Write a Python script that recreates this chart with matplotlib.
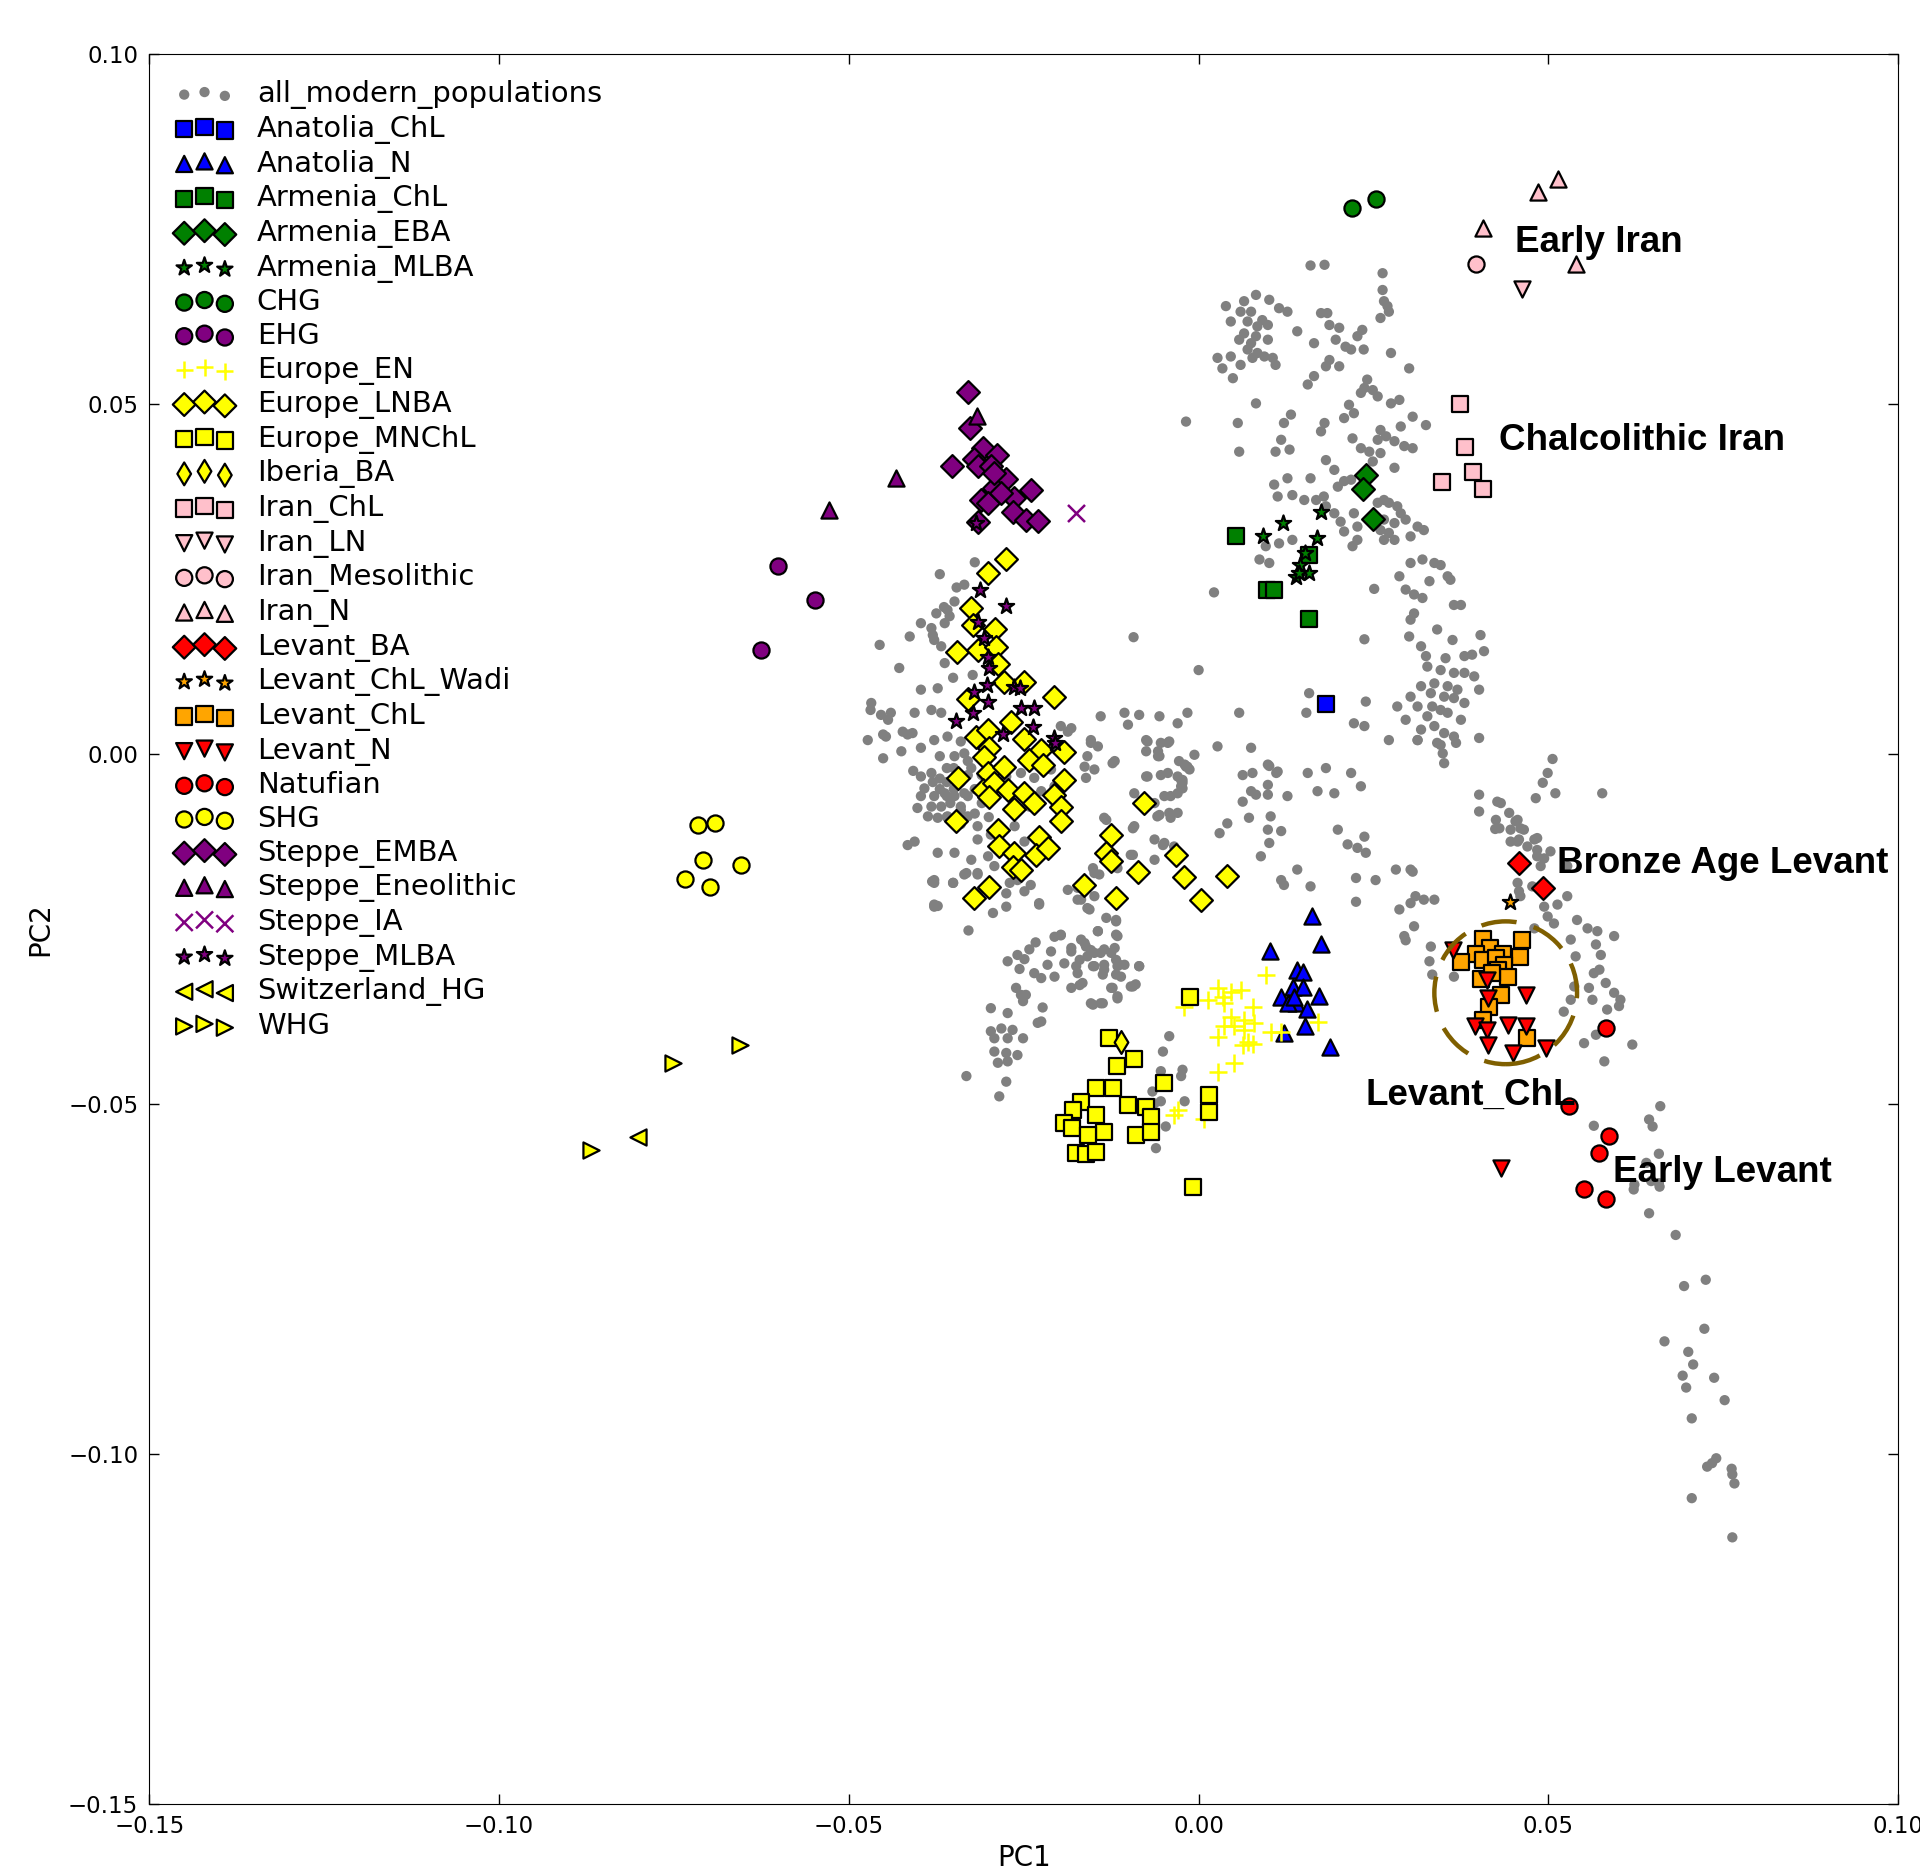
import numpy as np
import matplotlib.pyplot as plt
from matplotlib.patches import Circle

plt.rcParams['font.family'] = ['DejaVu Sans']
plt.rcParams['axes.unicode_minus'] = True

# ---- modern reference samples (grey background cloud), PC1/PC2 ----
modern_near_east = [
    (0.0160, 0.0698), (0.0180, 0.0699), (0.0263, 0.0687), (0.0263, 0.0663), (0.0265, 0.0647), (0.0270, 0.0640),
    (0.0272, 0.0632), (0.0260, 0.0623), (0.0082, 0.0656), (0.0065, 0.0647), (0.0101, 0.0649), (0.0039, 0.0640),
    (0.0060, 0.0632), (0.0075, 0.0632), (0.0091, 0.0620), (0.0115, 0.0637), (0.0127, 0.0632), (0.0046, 0.0618),
    (0.0070, 0.0618), (0.0084, 0.0611), (0.0099, 0.0613), (0.0065, 0.0601), (0.0082, 0.0597), (0.0058, 0.0592),
    (0.0075, 0.0587), (0.0099, 0.0592), (0.0070, 0.0578), (0.0084, 0.0573), (0.0027, 0.0566), (0.0046, 0.0568),
    (0.0060, 0.0556), (0.0034, 0.0551), (0.0077, 0.0566), (0.0094, 0.0568), (0.0106, 0.0566), (0.0110, 0.0556),
    (0.0049, 0.0537), (0.0141, 0.0604), (0.0175, 0.0630), (0.0184, 0.0630), (0.0187, 0.0613), (0.0201, 0.0609),
    (0.0234, 0.0606), (0.0227, 0.0597), (0.0165, 0.0587), (0.0196, 0.0592), (0.0210, 0.0582), (0.0218, 0.0578),
    (0.0236, 0.0578), (0.0275, 0.0573), (0.0301, 0.0551), (0.0187, 0.0563), (0.0201, 0.0554), (0.0182, 0.0554),
    (0.0165, 0.0540), (0.0156, 0.0528), (0.0241, 0.0535), (0.0237, 0.0523), (0.0249, 0.0520), (0.0256, 0.0511),
    (0.0275, 0.0501), (0.0287, 0.0506), (0.0232, 0.0516), (0.0215, 0.0499), (0.0222, 0.0487), (0.0208, 0.0480),
    (0.0082, 0.0501), (0.0056, 0.0473), (-0.0018, 0.0475), (0.0132, 0.0485), (0.0122, 0.0473), (0.0180, 0.0473),
    (0.0175, 0.0461), (0.0118, 0.0449), (0.0220, 0.0451), (0.0260, 0.0463), (0.0268, 0.0454), (0.0256, 0.0449),
    (0.0280, 0.0447), (0.0289, 0.0468), (0.0306, 0.0482), (0.0325, 0.0470), (0.0294, 0.0440), (0.0306, 0.0437),
    (0.0058, 0.0432), (0.0110, 0.0432), (0.0130, 0.0435), (0.0182, 0.0420), (0.0194, 0.0406), (0.0232, 0.0437),
    (0.0244, 0.0432), (0.0260, 0.0430), (0.0249, 0.0418), (0.0280, 0.0409), (0.0208, 0.0390), (0.0199, 0.0382),
    (0.0218, 0.0392), (0.0127, 0.0394), (0.0160, 0.0394), (0.0108, 0.0385), (0.0113, 0.0368), (0.0134, 0.0370),
    (0.0151, 0.0363), (0.0168, 0.0363), (0.0179, 0.0368), (0.0182, 0.0354), (0.0194, 0.0344), (0.0203, 0.0332),
    (0.0208, 0.0318), (0.0222, 0.0344), (0.0227, 0.0325), (0.0256, 0.0359), (0.0265, 0.0363), (0.0272, 0.0359),
    (0.0284, 0.0354), (0.0289, 0.0344), (0.0296, 0.0335), (0.0265, 0.0335), (0.0280, 0.0330), (0.0260, 0.0320),
    (0.0272, 0.0316), (0.0227, 0.0306), (0.0220, 0.0297), (0.0265, 0.0306), (0.0280, 0.0306), (0.0303, 0.0311),
    (0.0313, 0.0325), (0.0322, 0.0320), (0.0096, 0.0297), (0.0115, 0.0301), (0.0134, 0.0306), (0.0087, 0.0278),
    (0.0101, 0.0273), (0.0303, 0.0273), (0.0320, 0.0278), (0.0337, 0.0273), (0.0346, 0.0270), (0.0356, 0.0254),
    (0.0360, 0.0249), (0.0287, 0.0254), (0.0330, 0.0247), (0.0251, 0.0236), (0.0296, 0.0235), (0.0308, 0.0228),
    (0.0320, 0.0223), (0.0365, 0.0213), (0.0375, 0.0213), (0.0308, 0.0201), (0.0303, 0.0192), (0.0341, 0.0178),
    (0.0363, 0.0163), (0.0301, 0.0168), (0.0318, 0.0154), (0.0237, 0.0164), (0.0325, 0.0140), (0.0353, 0.0137),
    (0.0380, 0.0140), (0.0391, 0.0142), (0.0403, 0.0170), (0.0408, 0.0147), (0.0327, 0.0125), (0.0346, 0.0120),
    (0.0365, 0.0116), (0.0380, 0.0116), (0.0337, 0.0101), (0.0318, 0.0097), (0.0356, 0.0097), (0.0370, 0.0092),
    (0.0394, 0.0111), (0.0401, 0.0092), (0.0303, 0.0082), (0.0332, 0.0087), (0.0351, 0.0082), (0.0365, 0.0080),
    (0.0380, 0.0073), (0.0284, 0.0068), (0.0313, 0.0068), (0.0334, 0.0068), (0.0346, 0.0063), (0.0327, 0.0054),
    (0.0356, 0.0059), (0.0375, 0.0049), (0.0296, 0.0049), (0.0337, 0.0040), (0.0318, 0.0035), (0.0351, 0.0030),
    (0.0365, 0.0025), (0.0313, 0.0020), (0.0341, 0.0016), (0.0401, 0.0023), (0.0022, 0.0231), (0.0000, 0.0120),
    (0.0158, 0.0087), (0.0154, 0.0059), (0.0239, 0.0075), (0.0222, 0.0044), (0.0237, 0.0040), (-0.0016, 0.0059),
    (0.0058, 0.0059), (0.0027, 0.0011), (0.0075, 0.0009), (-0.0006, -0.0001), (-0.0093, 0.0167),
]

modern_europe = [
    (-0.0320, 0.0274), (-0.0370, 0.0257), (-0.0335, 0.0242), (-0.0349, 0.0218), (-0.0359, 0.0206), (-0.0375, 0.0201),
    (-0.0397, 0.0187), (-0.0413, 0.0168), (-0.0382, 0.0180), (-0.0363, 0.0187), (-0.0356, 0.0197), (-0.0456, 0.0156),
    (-0.0378, 0.0163), (-0.0368, 0.0154), (-0.0428, 0.0123), (-0.0363, 0.0130), (-0.0351, 0.0109), (-0.0323, 0.0113),
    (-0.0397, 0.0092), (-0.0373, 0.0094), (-0.0468, 0.0073), (-0.0454, 0.0056), (-0.0444, 0.0049), (-0.0440, 0.0059),
    (-0.0406, 0.0059), (-0.0382, 0.0063), (-0.0368, 0.0059), (-0.0473, 0.0020), (-0.0447, 0.0025), (-0.0423, 0.0032),
    (-0.0409, 0.0030), (-0.0425, 0.0004), (-0.0451, -0.0006), (-0.0397, 0.0009), (-0.0378, 0.0020), (-0.0359, 0.0025),
    (-0.0340, 0.0018), (-0.0370, -0.0003), (-0.0349, -0.0003), (-0.0335, 0.0001), (-0.0382, -0.0027), (-0.0397, -0.0032),
    (-0.0392, -0.0049), (-0.0378, -0.0060), (-0.0363, -0.0056), (-0.0349, -0.0060), (-0.0335, -0.0056), (-0.0368, -0.0075),
    (-0.0382, -0.0075), (-0.0387, -0.0089), (-0.0373, -0.0091), (-0.0359, -0.0089), (-0.0340, -0.0075), (-0.0330, -0.0089),
    (-0.0397, -0.0060), (-0.0316, -0.0103), (-0.0406, -0.0125), (-0.0373, -0.0141), (-0.0349, -0.0141), (-0.0378, -0.0180),
    (-0.0351, -0.0184), (-0.0332, -0.0170), (-0.0316, -0.0170), (-0.0378, -0.0218), (-0.0275, -0.0218), (-0.0228, -0.0213),
    (-0.0270, -0.0184), (-0.0240, -0.0187), (-0.0360, -0.0040), (-0.0350, -0.0050), (-0.0340, -0.0040), (-0.0330, -0.0060),
    (-0.0320, -0.0050), (-0.0355, -0.0070), (-0.0340, -0.0080), (-0.0360, -0.0060), (-0.0370, -0.0050), (-0.0330, -0.0030),
    (-0.0310, -0.0070), (-0.0350, -0.0020), (-0.0320, -0.0085), (-0.0300, -0.0090), (-0.0340, -0.0100), (-0.0360, -0.0090),
    (-0.0380, -0.0040), (-0.0360, -0.0020), (-0.0330, -0.0010), (-0.0310, -0.0030), (-0.0300, -0.0050), (-0.0345, -0.0030),
    (-0.0325, -0.0020), (-0.0370, -0.0035), (-0.0350, -0.0095), (-0.0469, 0.0063), (-0.0451, 0.0028), (-0.0416, 0.0028),
    (-0.0408, -0.0024), (-0.0402, -0.0077), (-0.0416, -0.0130), (-0.0381, -0.0182), (-0.0373, -0.0217), (-0.0329, -0.0252),
    (-0.0294, -0.0227), (-0.0380, 0.0170), (-0.0364, 0.0210), (-0.0346, 0.0238),
    (-0.0235, -0.0034), (-0.0211, -0.0022), (-0.0206, -0.0046), (-0.0197, 0.0040), (-0.0187, 0.0032), (-0.0209, 0.0009),
    (-0.0235, -0.0010), (-0.0254, -0.0027), (-0.0275, -0.0032), (-0.0225, -0.0053), (-0.0242, -0.0075), (-0.0263, -0.0103),
    (-0.0316, -0.0122), (-0.0297, -0.0115), (-0.0282, -0.0127), (-0.0249, -0.0125), (-0.0325, -0.0151), (-0.0301, -0.0146),
    (-0.0292, -0.0160), (-0.0259, -0.0180), (-0.0249, -0.0196), (-0.0316, -0.0199), (-0.0275, -0.0199),
]

modern_central = [
    (-0.0140, 0.0054), (-0.0106, 0.0059), (-0.0085, 0.0056), (-0.0056, 0.0054), (-0.0030, 0.0044), (-0.0101, 0.0042),
    (-0.0075, 0.0020), (-0.0054, 0.0016), (-0.0042, 0.0018), (-0.0154, 0.0020), (-0.0144, 0.0011), (-0.0159, -0.0003),
    (-0.0163, -0.0018), (-0.0149, -0.0022), (-0.0123, -0.0013), (-0.0056, -0.0003), (-0.0028, -0.0010), (-0.0018, -0.0018),
    (-0.0054, -0.0030), (-0.0075, -0.0032), (-0.0044, -0.0027), (-0.0025, -0.0037), (-0.0161, -0.0034), (-0.0092, -0.0056),
    (-0.0049, -0.0060), (-0.0040, -0.0060), (-0.0025, -0.0046), (-0.0063, -0.0070), (-0.0042, -0.0084), (-0.0030, -0.0084),
    (-0.0059, -0.0089), (-0.0135, -0.0091), (-0.0092, -0.0103), (-0.0063, -0.0122), (-0.0049, -0.0127), (-0.0035, -0.0132),
    (-0.0063, -0.0151), (-0.0094, -0.0144), (-0.0151, -0.0163), (-0.0142, -0.0172), (-0.0173, -0.0191), (-0.0187, -0.0194),
    (-0.0149, -0.0203), (-0.0132, -0.0234), (-0.0144, -0.0253), (-0.0197, -0.0258), (0.0030, -0.0113),
    (-0.0154, 0.0016), (-0.0120, -0.0010), (-0.0073, -0.0032), (-0.0030, -0.0032), (-0.0016, -0.0018), (-0.0023, -0.0041),
    (-0.0030, -0.0056), (-0.0056, -0.0087), (-0.0040, -0.0091), (-0.0094, -0.0106), (-0.0132, -0.0094), (-0.0051, -0.0130),
    (-0.0097, -0.0144), (-0.0116, -0.0163), (-0.0149, -0.0170), (-0.0168, -0.0208), (-0.0159, -0.0220), (-0.0118, -0.0239),
    (-0.0116, -0.0260), (-0.0182, -0.0277), (-0.0163, -0.0270), (-0.0154, -0.0280), (-0.0140, -0.0284), (-0.0125, -0.0284),
    (-0.0170, -0.0294), (-0.0149, -0.0303), (-0.0135, -0.0308), (-0.0116, -0.0303), (-0.0111, -0.0318), (-0.0085, -0.0303),
    (-0.0166, -0.0327), (-0.0182, -0.0334), (-0.0125, -0.0334), (-0.0094, -0.0332), (-0.0151, -0.0358), (-0.0137, -0.0356),
    (-0.0116, -0.0346), (-0.0182, 0.0037), (-0.0073, 0.0018), (-0.0044, 0.0016), (-0.0075, 0.0004), (-0.0058, 0.0004),
    (-0.0058, -0.0003), (-0.0020, -0.0015), (-0.0013, -0.0022), (-0.0023, -0.0037), (-0.0023, -0.0049),
    (0.0063, -0.0030), (0.0077, -0.0027), (0.0099, -0.0015), (0.0113, -0.0025), (0.0063, -0.0068), (0.0075, -0.0053),
    (0.0099, -0.0058), (0.0127, -0.0060), (0.0156, -0.0027), (0.0182, -0.0020), (0.0218, -0.0027), (0.0232, -0.0046),
    (0.0170, -0.0053), (0.0194, -0.0056), (0.0041, -0.0099), (0.0072, -0.0091), (0.0099, -0.0108), (0.0118, -0.0110),
    (0.0103, -0.0089), (0.0089, -0.0146), (0.0101, -0.0127), (0.0141, -0.0165), (0.0118, -0.0180), (0.0122, -0.0187),
    (0.0160, -0.0189), (0.0199, -0.0108), (0.0213, -0.0129), (0.0227, -0.0134), (0.0239, -0.0141), (0.0237, -0.0118),
    (0.0225, -0.0177), (0.0253, -0.0180), (0.0225, -0.0211), (0.0282, -0.0165), (0.0303, -0.0165), (0.0287, -0.0222),
    (0.0303, -0.0213), (0.0310, -0.0203), (0.0322, -0.0208), (0.0337, -0.0208), (0.0294, -0.0260), (0.0308, -0.0246),
    (0.0332, -0.0275), (0.0330, -0.0296), (0.0334, -0.0315), (0.0272, 0.0020), (0.0346, 0.0013), (0.0313, 0.0020),
    (0.0351, -0.0013), (0.0101, -0.0017), (0.0111, -0.0027), (0.0099, -0.0044), (0.0082, -0.0058),
]

modern_caucasus_strand = [
    (-0.0335, -0.0172), (-0.0316, -0.0172), (-0.0351, -0.0184), (-0.0378, -0.0184), (-0.0378, -0.0215), (-0.0228, -0.0215),
    (-0.0173, -0.0208), (-0.0156, -0.0222), (-0.0118, -0.0237), (-0.0144, -0.0253), (-0.0197, -0.0259), (-0.0118, -0.0258),
    (-0.0168, -0.0265), (-0.0161, -0.0275), (-0.0149, -0.0284), (-0.0135, -0.0279), (-0.0120, -0.0277), (-0.0242, -0.0279),
    (-0.0211, -0.0282), (-0.0182, -0.0282), (-0.0159, -0.0289), (-0.0192, -0.0299), (-0.0175, -0.0303), (-0.0151, -0.0303),
    (-0.0135, -0.0301), (-0.0118, -0.0294), (-0.0113, -0.0301), (-0.0106, -0.0301), (-0.0085, -0.0303), (-0.0273, -0.0296),
    (-0.0249, -0.0293), (-0.0256, -0.0307), (-0.0216, -0.0301), (-0.0235, -0.0313), (-0.0225, -0.0320), (-0.0206, -0.0318),
    (-0.0173, -0.0313), (-0.0170, -0.0330), (-0.0137, -0.0315), (-0.0118, -0.0315), (-0.0123, -0.0334), (-0.0116, -0.0349),
    (-0.0097, -0.0332), (-0.0090, -0.0329), (-0.0261, -0.0334), (-0.0254, -0.0344), (-0.0247, -0.0344), (-0.0251, -0.0353),
    (-0.0297, -0.0363), (-0.0273, -0.0370), (-0.0223, -0.0362), (-0.0154, -0.0356), (-0.0140, -0.0356), (-0.0230, -0.0384),
    (-0.0225, -0.0382), (-0.0297, -0.0396), (-0.0282, -0.0392), (-0.0266, -0.0394), (-0.0292, -0.0406), (-0.0273, -0.0406),
    (-0.0251, -0.0406), (-0.0292, -0.0425), (-0.0275, -0.0427), (-0.0259, -0.0430), (-0.0287, -0.0441), (-0.0273, -0.0439),
    (-0.0332, -0.0460), (-0.0275, -0.0468), (-0.0285, -0.0489), (-0.0259, -0.0287), (-0.0233, -0.0269), (-0.0206, -0.0261),
    (-0.0042, -0.0403), (-0.0051, -0.0425), (-0.0023, -0.0451), (-0.0054, -0.0453), (-0.0066, -0.0482), (-0.0020, -0.0496),
    (-0.0054, -0.0496), (-0.0025, -0.0460), (-0.0063, -0.0499), (-0.0047, -0.0532), (-0.0061, -0.0563),
]

modern_levant = [
    (0.0349, 0.0001), (0.0368, 0.0016), (0.0506, -0.0007), (0.0510, -0.0056), (0.0482, -0.0063), (0.0577, -0.0056),
    (0.0432, -0.0070), (0.0453, -0.0096), (0.0424, -0.0107), (0.0446, -0.0108), (0.0460, -0.0106), (0.0458, -0.0122),
    (0.0484, -0.0120), (0.0470, -0.0132), (0.0484, -0.0137), (0.0503, -0.0139), (0.0494, -0.0149), (0.0489, -0.0160),
    (0.0527, -0.0160), (0.0456, -0.0184), (0.0477, -0.0189), (0.0458, -0.0196), (0.0460, -0.0203), (0.0527, -0.0203),
    (0.0513, -0.0215), (0.0494, -0.0218), (0.0499, -0.0232), (0.0508, -0.0242), (0.0541, -0.0237), (0.0556, -0.0249),
    (0.0570, -0.0253), (0.0594, -0.0260), (0.0568, -0.0272), (0.0575, -0.0287), (0.0573, -0.0308), (0.0565, -0.0313),
    (0.0582, -0.0327), (0.0594, -0.0341), (0.0603, -0.0351), (0.0601, -0.0360), (0.0558, -0.0334), (0.0563, -0.0351),
    (0.0537, -0.0332), (0.0532, -0.0351), (0.0522, -0.0368), (0.0584, -0.0365), (0.0568, -0.0401), (0.0551, -0.0413),
    (0.0620, -0.0415), (0.0580, -0.0439), (0.0532, -0.0265), (0.0539, -0.0289), (0.0480, -0.0249), (0.0365, -0.0318),
    (0.0306, -0.0168), (0.0296, -0.0266), (0.0401, -0.0058), (0.0401, -0.0082), (0.0427, -0.0068), (0.0425, -0.0094),
    (0.0430, -0.0106), (0.0444, -0.0084), (0.0456, -0.0094), (0.0465, -0.0108), (0.0456, -0.0125), (0.0480, -0.0122),
    (0.0446, -0.0125), (0.0484, -0.0146), (0.0492, -0.0041), (0.0499, -0.0027),
    (0.0660, -0.0503), (0.0644, -0.0522), (0.0649, -0.0532), (0.0565, -0.0531), (0.0622, -0.0622), (0.0658, -0.0571),
    (0.0640, -0.0584), (0.0659, -0.0618), (0.0647, -0.0610), (0.0658, -0.0613), (0.0623, -0.0615), (0.0644, -0.0656),
    (0.0682, -0.0687), (0.0725, -0.0751), (0.0694, -0.0760), (0.0723, -0.0821), (0.0666, -0.0839), (0.0700, -0.0854),
    (0.0707, -0.0872), (0.0692, -0.0888), (0.0697, -0.0905), (0.0737, -0.0891), (0.0752, -0.0923), (0.0705, -0.0949),
    (0.0727, -0.1018), (0.0740, -0.1006), (0.0734, -0.1013), (0.0762, -0.1021), (0.0763, -0.1029), (0.0766, -0.1042),
    (0.0705, -0.1063), (0.0763, -0.1119),
]

# ---- ancient samples ----
anatolia_chl = [(0.0182, 0.0072)]
anatolia_n = [(0.0162, -0.0232), (0.0175, -0.0272), (0.0102, -0.0282), (0.0141, -0.0308), (0.0149, -0.0311),
              (0.0135, -0.0333), (0.0149, -0.0333), (0.0118, -0.0347), (0.0139, -0.0355), (0.0172, -0.0345),
              (0.0155, -0.0364), (0.0152, -0.0389), (0.0122, -0.0399), (0.0188, -0.0419), (0.0128, -0.0355),
              (0.0136, -0.0347)]
armenia_chl = [(0.0054, 0.0311), (0.0158, 0.0285), (0.0098, 0.0235), (0.0108, 0.0235), (0.0158, 0.0193)]
armenia_eba = [(0.0239, 0.0399), (0.0235, 0.0379), (0.0249, 0.0336)]
armenia_mlba = [(0.0175, 0.0346), (0.0121, 0.0330), (0.0092, 0.0311), (0.0169, 0.0309), (0.0152, 0.0287),
                (0.0145, 0.0270), (0.0139, 0.0253), (0.0158, 0.0259), (0.0143, 0.0259)]
chg = [(0.0219, 0.0780), (0.0254, 0.0793)]
ehg = [(-0.0602, 0.0268), (-0.0548, 0.0220), (-0.0626, 0.0149)]
europe_en = [(0.0096, -0.0315), (0.0028, -0.0334), (0.0046, -0.0340), (0.0061, -0.0337), (0.0035, -0.0347),
             (0.0013, -0.0351), (0.0037, -0.0355), (-0.0021, -0.0361), (0.0078, -0.0361), (0.0046, -0.0375),
             (0.0065, -0.0380), (0.0079, -0.0384), (0.0051, -0.0389), (0.0037, -0.0389), (0.0065, -0.0394),
             (0.0104, -0.0397), (0.0118, -0.0397), (0.0028, -0.0404), (0.0171, -0.0383), (0.0071, -0.0411),
             (0.0078, -0.0414), (0.0063, -0.0415), (0.0051, -0.0441), (0.0028, -0.0454), (-0.0030, -0.0508),
             (-0.0035, -0.0515), (0.0008, -0.0522)]
europe_lnba = [(-0.0275, 0.0278), (-0.0301, 0.0258), (-0.0325, 0.0209), (-0.0322, 0.0185), (-0.0291, 0.0179),
               (-0.0345, 0.0146), (-0.0315, 0.0149), (-0.0289, 0.0153), (-0.0287, 0.0128), (-0.0278, 0.0103),
               (-0.0249, 0.0103), (-0.0207, 0.0082), (-0.0330, 0.0078), (-0.0268, 0.0046), (-0.0318, 0.0025),
               (-0.0301, 0.0035), (-0.0299, 0.0009), (-0.0249, 0.0021), (-0.0225, 0.0006), (-0.0192, 0.0003),
               (-0.0242, -0.0008), (-0.0222, -0.0015), (-0.0307, -0.0004), (-0.0301, -0.0027), (-0.0278, -0.0018),
               (-0.0344, -0.0034), (-0.0192, -0.0037), (-0.0308, -0.0051), (-0.0292, -0.0041), (-0.0272, -0.0051),
               (-0.0249, -0.0055), (-0.0235, -0.0070), (-0.0207, -0.0058), (-0.0197, -0.0075), (-0.0299, -0.0062),
               (-0.0347, -0.0096), (-0.0264, -0.0079), (-0.0197, -0.0096), (-0.0287, -0.0108), (-0.0228, -0.0119),
               (-0.0285, -0.0132), (-0.0264, -0.0141), (-0.0232, -0.0144), (-0.0215, -0.0134), (-0.0265, -0.0162),
               (-0.0254, -0.0165), (-0.0125, -0.0115), (-0.0132, -0.0141), (-0.0125, -0.0153), (-0.0164, -0.0187),
               (-0.0118, -0.0206), (-0.0299, -0.0190), (-0.0321, -0.0206), (-0.0087, -0.0169), (-0.0078, -0.0070),
               (-0.0032, -0.0144), (-0.0021, -0.0175), (0.0003, -0.0208), (0.0040, -0.0174)]
europe_mnchl = [(-0.0012, -0.0347), (-0.0128, -0.0405), (-0.0092, -0.0435), (-0.0117, -0.0446), (-0.0049, -0.0470),
                (-0.0146, -0.0477), (-0.0122, -0.0477), (0.0015, -0.0487), (-0.0168, -0.0497), (-0.0101, -0.0501),
                (-0.0075, -0.0504), (-0.0180, -0.0508), (-0.0146, -0.0515), (-0.0068, -0.0519), (-0.0192, -0.0527),
                (-0.0181, -0.0534), (-0.0135, -0.0540), (-0.0158, -0.0544), (-0.0089, -0.0544), (-0.0068, -0.0540),
                (-0.0175, -0.0570), (-0.0161, -0.0572), (-0.0146, -0.0568), (0.0015, -0.0511), (-0.0008, -0.0618)]
iberia_ba = [(-0.0111, -0.0412)]
iran_chl = [(0.0373, 0.0500), (0.0381, 0.0439), (0.0348, 0.0388), (0.0392, 0.0403), (0.0406, 0.0378)]
iran_ln = [(0.0462, 0.0665)]
iran_mesolithic = [(0.0397, 0.0700)]
iran_n = [(0.0406, 0.0752), (0.0485, 0.0803), (0.0514, 0.0822), (0.0539, 0.0700)]
levant_ba = [(0.0458, -0.0155), (0.0492, -0.0192)]
levant_chl_wadi = [(0.0445, -0.0212)]
levant_chl = [(0.0406, -0.0264), (0.0417, -0.0277), (0.0435, -0.0285), (0.0463, -0.0266), (0.0460, -0.0290),
              (0.0396, -0.0285), (0.0375, -0.0297), (0.0406, -0.0294), (0.0425, -0.0291), (0.0437, -0.0301),
              (0.0428, -0.0308), (0.0442, -0.0318), (0.0403, -0.0322), (0.0432, -0.0344), (0.0415, -0.0361),
              (0.0406, -0.0380), (0.0470, -0.0405), (0.0420, -0.0313)]
levant_n = [(0.0363, -0.0280), (0.0412, -0.0323), (0.0413, -0.0349), (0.0468, -0.0344), (0.0395, -0.0389),
            (0.0412, -0.0394), (0.0442, -0.0387), (0.0468, -0.0389), (0.0413, -0.0415), (0.0450, -0.0427),
            (0.0496, -0.0420), (0.0433, -0.0591)]
natufian = [(0.0582, -0.0392), (0.0529, -0.0503), (0.0587, -0.0546), (0.0572, -0.0570), (0.0551, -0.0621),
            (0.0583, -0.0636)]
shg = [(-0.0715, -0.0101), (-0.0692, -0.0098), (-0.0708, -0.0152), (-0.0654, -0.0158), (-0.0734, -0.0178),
       (-0.0698, -0.0190)]
steppe_emba = [(-0.0330, 0.0517), (-0.0327, 0.0466), (-0.0308, 0.0437), (-0.0288, 0.0427), (-0.0352, 0.0411),
               (-0.0321, 0.0421), (-0.0315, 0.0411), (-0.0297, 0.0411), (-0.0275, 0.0393), (-0.0292, 0.0380),
               (-0.0240, 0.0377), (-0.0311, 0.0363), (-0.0301, 0.0359), (-0.0264, 0.0366), (-0.0266, 0.0346),
               (-0.0247, 0.0335), (-0.0230, 0.0333), (-0.0315, 0.0332), (-0.0282, 0.0373), (-0.0292, 0.0402)]
steppe_eneolithic = [(-0.0317, 0.0483), (-0.0432, 0.0394), (-0.0528, 0.0349)]
steppe_ia = [(-0.0175, 0.0345)]
steppe_mlba = [(-0.0318, 0.0330), (-0.0312, 0.0235), (-0.0275, 0.0212), (-0.0315, 0.0189), (-0.0307, 0.0166),
               (-0.0301, 0.0138), (-0.0299, 0.0123), (-0.0303, 0.0099), (-0.0321, 0.0088), (-0.0301, 0.0075),
               (-0.0322, 0.0059), (-0.0347, 0.0047), (-0.0264, 0.0096), (-0.0255, 0.0095), (-0.0254, 0.0066),
               (-0.0235, 0.0066), (-0.0279, 0.0028), (-0.0237, 0.0038), (-0.0207, 0.0023), (-0.0206, 0.0016)]
switzerland_hg = [(-0.0801, -0.0547)]
whg = [(-0.0655, -0.0415), (-0.0752, -0.0442), (-0.0868, -0.0565)]

# label, points, marker, colour
ancient = [
    ('Anatolia_ChL', anatolia_chl, 's', 'blue'),
    ('Anatolia_N', anatolia_n, '^', 'blue'),
    ('Armenia_ChL', armenia_chl, 's', 'green'),
    ('Armenia_EBA', armenia_eba, 'D', 'green'),
    ('Armenia_MLBA', armenia_mlba, '*', 'green'),
    ('CHG', chg, 'o', 'green'),
    ('EHG', ehg, 'o', 'purple'),
    ('Europe_EN', europe_en, '+', 'yellow'),
    ('Europe_LNBA', europe_lnba, 'D', 'yellow'),
    ('Europe_MNChL', europe_mnchl, 's', 'yellow'),
    ('Iberia_BA', iberia_ba, 'd', 'yellow'),
    ('Iran_ChL', iran_chl, 's', 'pink'),
    ('Iran_LN', iran_ln, 'v', 'pink'),
    ('Iran_Mesolithic', iran_mesolithic, 'o', 'pink'),
    ('Iran_N', iran_n, '^', 'pink'),
    ('Levant_BA', levant_ba, 'D', 'red'),
    ('Levant_ChL_Wadi', levant_chl_wadi, '*', 'orange'),
    ('Levant_ChL', levant_chl, 's', 'orange'),
    ('Levant_N', levant_n, 'v', 'red'),
    ('Natufian', natufian, 'o', 'red'),
    ('SHG', shg, 'o', 'yellow'),
    ('Steppe_EMBA', steppe_emba, 'D', 'purple'),
    ('Steppe_Eneolithic', steppe_eneolithic, '^', 'purple'),
    ('Steppe_IA', steppe_ia, 'x', 'purple'),
    ('Steppe_MLBA', steppe_mlba, '*', 'purple'),
    ('Switzerland_HG', switzerland_hg, '<', 'yellow'),
    ('WHG', whg, '>', 'yellow'),
]

annotations = [
    ('Early Iran', 0.0453, 0.0731),
    ('Chalcolithic Iran', 0.0429, 0.0448),
    ('Bronze Age Levant', 0.0512, -0.0157),
    ('Levant_ChL', 0.0238, -0.0487),
    ('Early Levant', 0.0593, -0.0598),
]
levant_chl_centre = (0.0439, -0.0341)
levant_chl_radius = 0.0102

fig = plt.figure(figsize=(19.2, 18.72), dpi=100)
ax = fig.add_axes([0.0778, 0.0363, 0.9108, 0.9348])

modern = np.array(modern_near_east + modern_europe + modern_central + modern_caucasus_strand + modern_levant)
ax.scatter(modern[:, 0], modern[:, 1], s=55, c='gray', edgecolors='none', label='all_modern_populations')

for label, pts, marker, colour in ancient:
    pts = np.array(pts)
    if marker in ('+', 'x'):
        ax.scatter(pts[:, 0], pts[:, 1], s=150, marker=marker, c=colour, linewidths=1.8, label=label)
    else:
        ax.scatter(pts[:, 0], pts[:, 1], s=135, marker=marker, c=colour, edgecolors='black',
                   linewidths=1.6, label=label)

ax.add_patch(Circle(levant_chl_centre, levant_chl_radius, fill=False, edgecolor='#7f5f00',
                    linewidth=3.2, linestyle=(0, (8, 4))))

for text, x, y in annotations:
    ax.text(x, y, text, fontsize=26.5, fontweight='bold', family='Liberation Sans', va='center', ha='left')

ax.set_xlim(-0.15, 0.10)
ax.set_ylim(-0.15, 0.10)
ax.set_xticks([-0.15, -0.10, -0.05, 0.0, 0.05, 0.10])
ax.set_yticks([-0.15, -0.10, -0.05, 0.0, 0.05, 0.10])
ax.set_xticklabels(['\u22120.15', '\u22120.10', '\u22120.05', '0.00', '0.05', '0.10'])
ax.set_yticklabels(['\u22120.15', '\u22120.10', '\u22120.05', '0.00', '0.05', '0.10'])
ax.tick_params(direction='in', length=7, width=1, top=True, right=True, labelsize=16.5, pad=8)
ax.set_xlabel('PC1', fontsize=20, labelpad=4)
ax.set_ylabel('PC2', fontsize=20, labelpad=10)

ax.legend(loc='upper left', scatterpoints=3, frameon=False, fontsize=20.9, labelspacing=0.195,
          handletextpad=0.8, handlelength=2.0, borderpad=0.4, borderaxespad=0.5)

fig.savefig('out.png', dpi=100)
